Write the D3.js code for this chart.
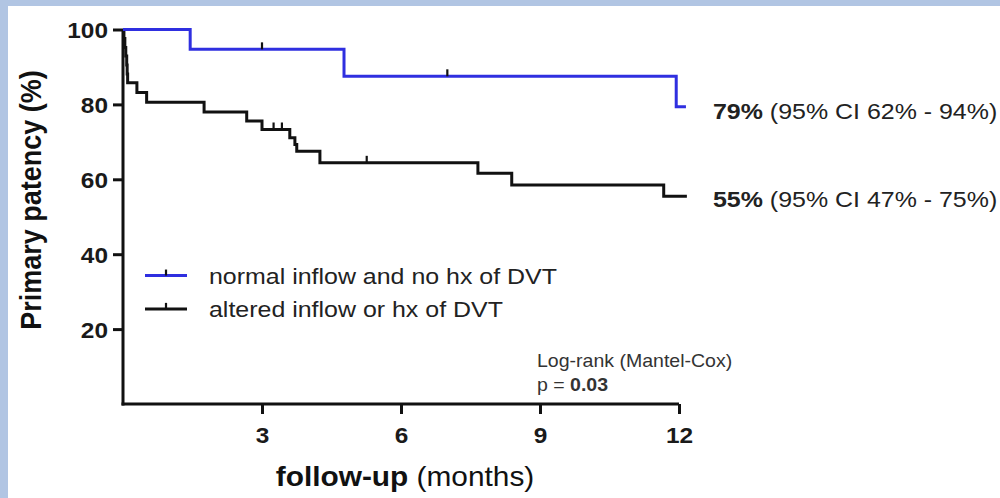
<!DOCTYPE html>
<html><head><meta charset="utf-8">
<script src="https://cdn.jsdelivr.net/npm/d3@7/dist/d3.min.js"></script>
<style>body{margin:0;background:#fff;} svg{display:block;}</style>
</head><body>
<svg id="chart" width="1000" height="498"></svg>
<script>
// Data: Kaplan-Meier steps [month, patency %]
const normalSteps = [[0,100],[1.45,94.7],[4.77,87.5],[11.94,79.4],[12.15,79.4]];
const normalCensor = [[3.0,94.7],[7.0,87.5]];
const alteredSteps = [[0,100],[0.02,97.6],[0.04,95.2],[0.06,92.9],[0.08,90.5],[0.09,88.1],[0.1,85.8],[0.3,83.2],[0.51,80.6],[1.75,78.0],[2.67,75.6],[3.0,73.3],[3.6,71.1],[3.71,69.3],[3.75,67.5],[4.25,64.4],[7.66,61.6],[8.39,58.5],[11.67,55.5],[12.17,55.5]];
const alteredCensor = [[3.25,73.3],[3.43,73.3],[5.26,64.4]];
const xTicks = [3,6,9,12];
const yTicks = [20,40,60,80,100];
const seriesNames = ["normal inflow and no hx of DVT","altered inflow or hx of DVT"];
const seriesColors = ["#2f2fe0","#111111"];
const endLabels = [["79%"," (95% CI 62% - 94%)"],["55%"," (95% CI 47% - 75%)"]];
const endValues = [79.4, 55.5];

const SX = 1.085; // horizontal text stretch
const svg = d3.select("#chart");
const font = "'Liberation Sans', Arial, Helvetica, sans-serif";
svg.append("rect").attr("width",1000).attr("height",498).attr("fill","#b1c5e3");
svg.append("rect").attr("x",8).attr("y",6).attr("width",992).attr("height",492).attr("fill","#ffffff");

const x = d3.scaleLinear().domain([0,12]).range([123,679]);
const y = d3.scaleLinear().domain([0,100]).range([404,29.5]);

const g = svg.append("g").attr("font-family",font);

function addText(parent, tx, ty, size, opts={}){
  const t = parent.append("text")
    .attr("transform",`translate(${tx},${ty}) scale(${opts.sx||SX},1)`)
    .attr("font-size",size).attr("fill",opts.fill||"#1a1a1a")
    .attr("text-anchor",opts.anchor||"start");
  if(opts.weight) t.attr("font-weight",opts.weight);
  return t;
}

// axes
const xAxis = d3.axisBottom(x).tickValues(xTicks).tickSize(10).tickFormat(d3.format("d"));
const gx = g.append("g").attr("transform",`translate(0,${y(0)})`).call(xAxis);
const yAxis = d3.axisLeft(y).tickValues(yTicks).tickSize(10).tickFormat(d3.format("d"));
const gy = g.append("g").attr("transform",`translate(${x(0)},0)`).call(yAxis);
[gx,gy].forEach(a=>{
  a.select(".domain").attr("stroke","#111").attr("stroke-width",3);
  a.selectAll(".tick line").attr("stroke","#111").attr("stroke-width",3);
  a.selectAll(".tick text").attr("fill","#1a1a1a").attr("font-size",22.5).attr("font-weight","bold").attr("font-family",font);
});
gy.select(".domain").attr("d",`M0,${y(100)}V${y(0)+1.5}`);
gx.select(".domain").attr("d",`M${x(0)-1.5},0H${x(12)}`);
gy.selectAll(".tick text").attr("x",0).attr("dy","0.36em").attr("transform",`translate(-15,0) scale(${SX},1)`);
gx.selectAll(".tick text").attr("y",0).attr("dy","0").attr("transform",`translate(0,39) scale(${SX},1)`);

const line = d3.line().x(d=>x(d[0])).y(d=>y(d[1])).curve(d3.curveStepAfter);
const curves = [[normalSteps,normalCensor],[alteredSteps,alteredCensor]];
[1,0].forEach(i=>{
  const [steps,cens] = curves[i];
  g.append("path").datum(steps).attr("d",line).attr("fill","none")
    .attr("stroke",seriesColors[i]).attr("stroke-width",3);
  g.selectAll(null).data(cens).enter().append("line")
    .attr("x1",d=>x(d[0])).attr("x2",d=>x(d[0]))
    .attr("y1",d=>y(d[1])).attr("y2",d=>y(d[1])-7)
    .attr("stroke","#111").attr("stroke-width",2.2);
});

// legend
const legY = [y(34.3), y(25.4)];
seriesNames.forEach((n,i)=>{
  g.append("line").attr("x1",145).attr("x2",187).attr("y1",legY[i]).attr("y2",legY[i])
    .attr("stroke",seriesColors[i]).attr("stroke-width",3);
  g.append("line").attr("x1",166).attr("x2",166).attr("y1",legY[i]).attr("y2",legY[i]-6)
    .attr("stroke","#111").attr("stroke-width",2.2);
  addText(g,209,legY[i]+8,23,{fill:"#222"}).text(n);
});

// end labels
const endOff = [12, 10.5];
endLabels.forEach((t,i)=>{
  const tx = addText(g,713,y(endValues[i])+endOff[i],23,{fill:"#222"});
  tx.append("tspan").attr("font-weight","bold").text(t[0]);
  tx.append("tspan").text(t[1]);
});

// stats text
addText(g,537,366.5,18,{fill:"#333"}).text("Log-rank (Mantel-Cox)");
const pt = addText(g,537,390.5,18,{fill:"#333"});
pt.append("tspan").text("p = ");
pt.append("tspan").attr("font-weight","bold").text("0.03");

// axis titles
const xt = addText(g,405,486,27.5,{anchor:"middle",fill:"#111"});
xt.append("tspan").attr("font-weight","bold").text("follow-up");
xt.append("tspan").text(" (months)");
const yt = g.append("text").attr("transform",`translate(41,200) rotate(-90) scale(1,${SX})`).attr("text-anchor","middle")
  .attr("font-size",27).attr("fill","#111").attr("font-weight","bold");
yt.text("Primary patency (%)");
</script>
</body></html>
